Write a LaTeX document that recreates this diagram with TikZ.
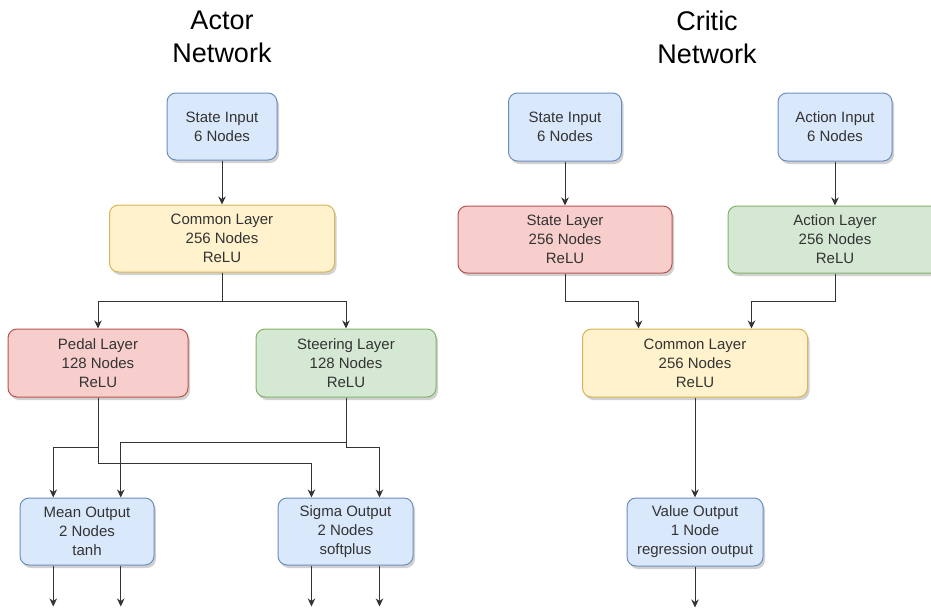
\documentclass[tikz,border=0pt]{standalone}
\usepackage{fontspec}
\setmainfont{Liberation Sans}
\usepackage{xcolor}
\usetikzlibrary{arrows.meta,calc,shadows}
\definecolor{bfill}{HTML}{DAE8FC}\definecolor{bdraw}{HTML}{6C8EBF}
\definecolor{yfill}{HTML}{FFF2CC}\definecolor{ydraw}{HTML}{D6B656}
\definecolor{rfill}{HTML}{F8CECC}\definecolor{rdraw}{HTML}{B85450}
\definecolor{gfill}{HTML}{D5E8D4}\definecolor{gdraw}{HTML}{82B366}
\definecolor{txt}{HTML}{333333}
\tikzset{
  lyr/.style={rectangle, rounded corners=9pt, line width=1pt, align=center, inner sep=0pt,
    text=txt, font=\fontsize{15}{19}\selectfont, minimum height=67pt,
    drop shadow={shadow xshift=2pt, shadow yshift=-3pt, opacity=0.18, fill=black}},
  bluebx/.style={lyr, fill=bfill, draw=bdraw},
  yelbx/.style={lyr, fill=yfill, draw=ydraw},
  redbx/.style={lyr, fill=rfill, draw=rdraw},
  grnbx/.style={lyr, fill=gfill, draw=gdraw},
  arr/.style={-{Stealth[length=8pt,width=7.5pt,inset=2.5pt]}, line width=1pt, txt},
  ttl/.style={align=center, font=\fontsize{27}{33}\selectfont, text=black},
}
\begin{document}
\begin{tikzpicture}[x=1pt,y=-1pt]
  \useasboundingbox (0,0) rectangle (931,610);
  \clip (0,0) rectangle (931,610);
  % --- actor ---
  \node[ttl] (attl) at (222,37) {Actor\\Network};
  \node[bluebx, minimum width=110pt] (ainp) at (222,126.5) {State Input\\6 Nodes};
  \node[yelbx, minimum width=225pt] (acom) at (222,238.5) {Common Layer\\256 Nodes\\ReLU};
  \node[redbx, minimum width=180pt, minimum height=68pt] (aped) at (98,363) {Pedal Layer\\128 Nodes\\ReLU};
  \node[grnbx, minimum width=180pt, minimum height=68pt] (aste) at (346,363) {Steering Layer\\128 Nodes\\ReLU};
  \node[bluebx, minimum width=134pt] (amean) at (87,531.5) {Mean Output\\2 Nodes\\tanh};
  \node[bluebx, minimum width=135pt] (asig) at (345.5,531.5) {Sigma Output\\2 Nodes\\softplus};
  \coordinate (mL) at ($(amean.north west)!0.25!(amean.north east)$);
  \coordinate (mR) at ($(amean.north west)!0.75!(amean.north east)$);
  \coordinate (sL) at ($(asig.north west)!0.25!(asig.north east)$);
  \coordinate (sR) at ($(asig.north west)!0.75!(asig.north east)$);
  \draw[arr] (ainp) -- (acom);
  \draw[arr] (acom.south) -- ++(0,29) -| (aped.north);
  \draw[arr] (acom.south) -- ++(0,29) -| (aste.north);
  \draw[arr] (aped.south) -- ++(0,50) -| (mL);
  \draw[arr] (aped.south) -- ++(0,66) -| (sL);
  \draw[arr] (aste.south) -- ++(0,45) -| (mR);
  \draw[arr] (aste.south) -- ++(0,50) -| (sR);
  \foreach \p/\b in {mL/amean,mR/amean,sL/asig,sR/asig}
    \draw[arr] (\p |- \b.south) -- ++(0,41);
  % --- critic ---
  \node[ttl] (cttl) at (707,37) {Critic\\Network};
  \node[bluebx, minimum width=113pt, minimum height=68pt] (cinp) at (565,127) {State Input\\6 Nodes};
  \node[bluebx, minimum width=114pt, minimum height=68pt] (cact) at (835,127) {Action Input\\6 Nodes};
  \node[redbx, minimum width=214pt] (cst) at (565,239.5) {State Layer\\256 Nodes\\ReLU};
  \node[grnbx, minimum width=214pt] (cacl) at (835,239.5) {Action Layer\\256 Nodes\\ReLU};
  \node[yelbx, minimum width=225pt, minimum height=68pt] (ccom) at (695,363) {Common Layer\\256 Nodes\\ReLU};
  \node[bluebx, minimum width=136pt, minimum height=68pt] (cval) at (695,532) {Value Output\\1 Node\\regression output};
  \coordinate (cL) at ($(ccom.north west)!0.25!(ccom.north east)$);
  \coordinate (cR) at ($(ccom.north west)!0.75!(ccom.north east)$);
  \draw[arr] (cinp) -- (cst);
  \draw[arr] (cact) -- (cacl);
  \draw[arr] (cst.south) -- ++(0,28) -| (cL);
  \draw[arr] (cacl.south) -- ++(0,28) -| (cR);
  \draw[arr] (ccom) -- (cval);
  \draw[arr] (cval.south) -- ++(0,41);
\end{tikzpicture}
\end{document}
